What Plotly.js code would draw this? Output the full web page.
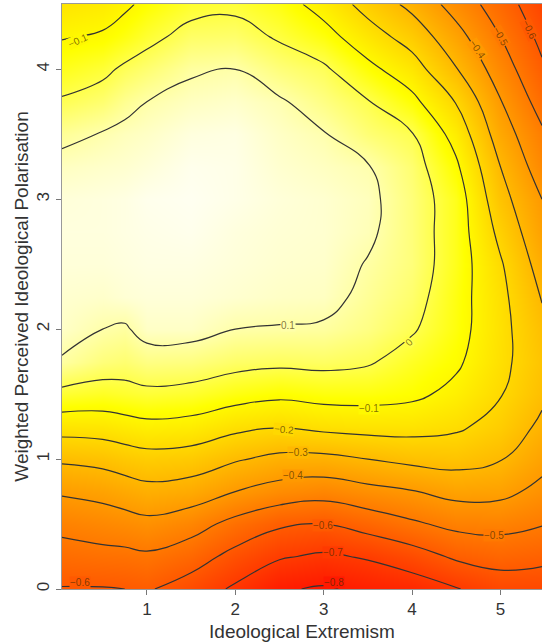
<!DOCTYPE html>
<html><head><meta charset="utf-8">
<script src="https://cdn.plot.ly/plotly-3.0.1.min.js"></script>
<style>html,body{margin:0;padding:0;background:#fff}#c{width:542px;height:643px}</style>
</head><body><div id="c"></div>
<script>
const xValues = [0.04,0.5,0.75,1,1.5,2,2.5,3,3.5,4,4.5,5,5.47];
const yValues = [0,0.25,0.5,0.75,1,1.25,1.5,1.75,2,2.25,2.5,2.75,3,3.25,3.5,3.75,4,4.25,4.5];
const colA = [-.605,-.54,-.472,-.388,-.285,-.16,-.025,.092,.132,.14,.15,.155,.15,.125,.08,.01,-.05,-.105,-.16];
const colB = [-.605,-.528,-.452,-.37,-.27,-.155,-.04,.05,.1,.135,.15,.155,.155,.135,.105,.04,-.02,-.09,-.14];
const colC = [-.6,-.525,-.44,-.35,-.25,-.14,-.03,.04,.09,.145,.155,.16,.16,.14,.12,.075,.015,-.06,-.115];
const colD = [-.59,-.515,-.425,-.33,-.235,-.125,-.02,.06,.13,.15,.16,.165,.17,.15,.13,.1,.04,-.025,-.08];
const colE = [-.645,-.555,-.46,-.345,-.245,-.135,-.03,.055,.13,.15,.16,.17,.175,.17,.155,.125,.09,.03,-.03];
const colF = [-.715,-.63,-.53,-.40,-.29,-.175,-.06,.03,.10,.14,.15,.155,.165,.165,.16,.135,.10,.035,-.02];
const colG = [-.79,-.69,-.585,-.44,-.325,-.195,-.08,.02,.095,.13,.14,.145,.15,.14,.13,.11,.05,-.01,-.06];
const colH = [-.81,-.715,-.60,-.46,-.325,-.175,-.065,.025,.09,.125,.135,.14,.14,.125,.105,.06,.015,-.065,-.135];
const colI = [-.78,-.69,-.56,-.43,-.30,-.165,-.065,.01,.06,.08,.095,.115,.12,.105,.045,.005,-.075,-.155,-.235];
const colJ = [-.755,-.645,-.515,-.405,-.275,-.165,-.08,-.04,.01,.035,.05,.05,.05,.04,.005,-.075,-.155,-.24,-.325];
const colK = [-.705,-.585,-.475,-.37,-.265,-.185,-.125,-.085,-.065,-.06,-.05,-.05,-.05,-.085,-.135,-.205,-.295,-.365,-.44];
const colL = [-.655,-.56,-.47,-.375,-.295,-.235,-.195,-.175,-.17,-.175,-.19,-.225,-.265,-.30,-.35,-.395,-.45,-.50,-.55];
const colM = [-.655,-.575,-.495,-.425,-.37,-.32,-.28,-.265,-.28,-.305,-.34,-.375,-.40,-.45,-.485,-.54,-.585,-.625,-.665];
const columns = [colA,colB,colC,colD,colE,colF,colG,colH,colI,colJ,colK,colL,colM];

const labelLevels = [-0.1,0.1,0,-0.1,-0.2,-0.3,-0.4,-0.5,-0.6,-0.7,-0.8,-0.6,-0.4,-0.5,-0.6];
const labelX = [0.22,2.6,3.96,3.51,2.55,2.71,2.65,4.93,2.99,3.11,3.12,0.24,4.74,5.0,5.33];
const labelY = [4.22,2.03,1.90,1.39,1.23,1.05,0.87,0.415,0.49,0.28,0.05,0.05,4.15,4.25,4.31];
const labelAngle = [-25,0,-45,0,5,0,0,0,0,0,0,0,55,60,65];

const zMin = -0.88, zMax = 0.19;
const colorStops = [[0,'#ff0000'],[0.75,'#ffff00'],[1,'#ffffff']];

const z = yValues.map((_,r)=>columns.map(c=>c[r]));

function colorAt(v){
  const t=(v-zMin)/(zMax-zMin);
  if(t<0.75){return `rgb(255,${Math.round(255*t/0.75)},0)`;}
  return `rgb(255,255,${Math.round(255*(t-0.75)/0.25)})`;
}

const data=[
 {type:'heatmap',x:xValues,y:yValues,z:z,zmin:zMin,zmax:zMax,colorscale:colorStops,zsmooth:'best',showscale:false,hoverinfo:'skip'},
 {type:'contour',x:xValues,y:yValues,z:z,showscale:false,hoverinfo:'skip',
  contours:{coloring:'none',start:-0.8,end:0.1,size:0.1,showlabels:false},
  line:{color:'#333333',width:1.2,smoothing:1.3}}
];
const annotations=labelLevels.map((lv,i)=>({
  x:labelX[i],y:labelY[i],xref:'x',yref:'y',showarrow:false,
  text:(lv<0?'\u2212':'')+Math.abs(lv),textangle:labelAngle[i],
  font:{family:'Liberation Sans, Arial, sans-serif',size:10,color:'rgba(60,40,0,0.65)'},
  bgcolor:colorAt(lv),borderpad:0
}));
const tickFont={family:'Liberation Sans, Arial, sans-serif',size:17,color:'#333'};
const titleFont={family:'Liberation Sans, Arial, sans-serif',size:19,color:'#333'};
const layout={
  width:542,height:643,margin:{l:62,r:0,t:4,b:54},paper_bgcolor:'#fff',plot_bgcolor:'#fff',
  font:tickFont,showlegend:false,annotations:annotations,
  xaxis:{range:[0.04,5.47],tickvals:[1,2,3,4,5],ticks:'outside',ticklen:5,tickcolor:'#777',showgrid:false,zeroline:false,
    showline:true,mirror:true,linecolor:'#999',linewidth:1,tickfont:tickFont,
    title:{text:'Ideological Extremism',font:titleFont,standoff:6}},
  yaxis:{range:[0,4.503],tickvals:[0,1,2,3,4],ticks:'outside',ticklen:5,tickcolor:'#777',showgrid:false,zeroline:false,
    showline:true,mirror:true,linecolor:'#999',linewidth:1,tickfont:tickFont,tickangle:-90,
    title:{text:'Weighted Perceived Ideological Polarisation',font:titleFont,standoff:0}}
};
Plotly.newPlot('c',data,layout,{displayModeBar:false,staticPlot:true});
</script></body></html>
